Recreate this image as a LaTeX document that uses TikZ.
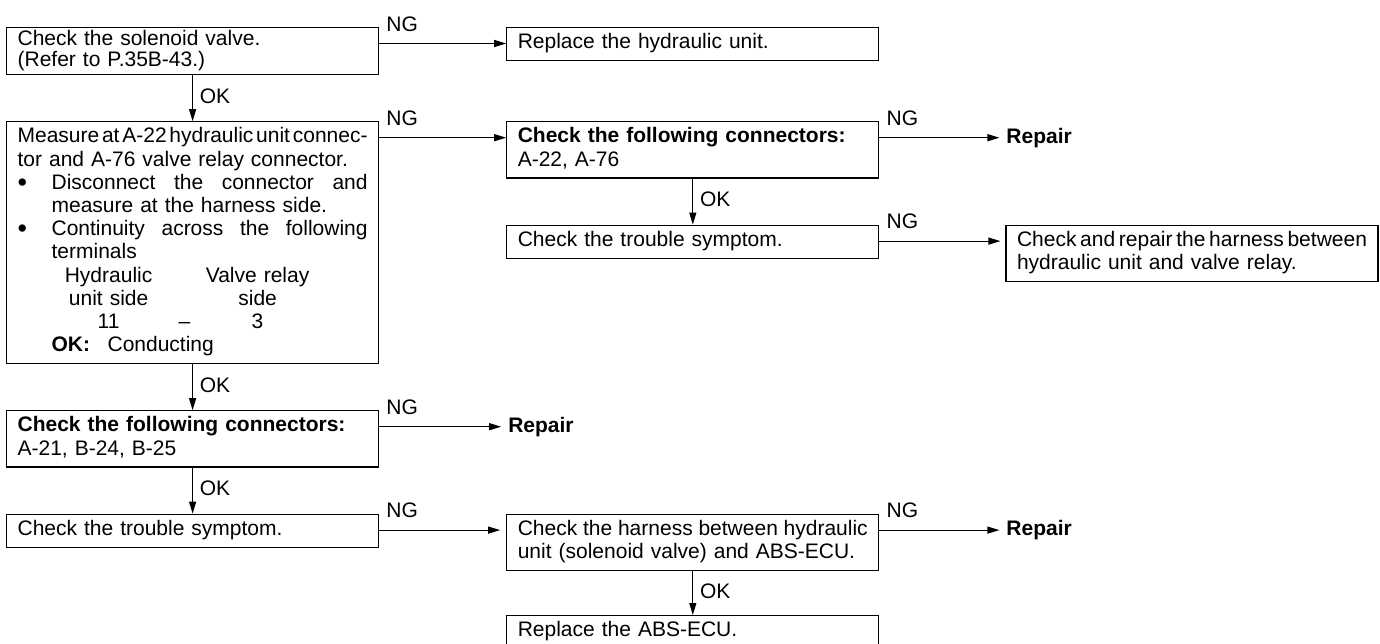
\documentclass[tikz,border=0pt]{standalone}
\usepackage{fontspec}
\setmainfont{Liberation Sans}
\usepackage{tikz}
\usetikzlibrary{arrows.meta, positioning, calc}

\newcommand{\blt}{\makebox[17pt][l]{\raisebox{-0.9pt}{\fontsize{13.5}{11.6}\selectfont\textbullet}}}
\newcommand{\jline}[2]{\makebox[#1][s]{\spaceskip=0.278em plus 1fil minus 0.25em\relax #2}}

\begin{document}
\begin{tikzpicture}[
    node distance=23pt and 63.5pt,
    box/.style={draw, line width=0.6pt, rectangle, text width=175pt, inner xsep=5.5pt,
      inner ysep=2.45pt, align=left, font=\fontsize{10.5}{11.6}\selectfont,
      execute at begin node={\noindent\strut}, execute at end node=\strut},
    txt/.style={font=\fontsize{10.5}{11.6}\selectfont},
    bold/.style={font=\fontsize{10.5}{11.6}\selectfont\bfseries, anchor=west},
    arrow/.style={line width=0.6pt, -{Triangle[length=6pt,width=3.5pt]}},
    ng/.style={pos=0, above right, yshift=2.4pt, txt},
    ok/.style={pos=0.45, right, txt}
]
\useasboundingbox (0,0) rectangle (690pt,-321.5pt);

\node[box, anchor=north west, inner ysep=0.8pt] (solenoid) at (3pt,-13.5pt)
  {Check the solenoid valve.\\[-1.3pt](Refer to P.35B-43.)};
\node[box, right=of solenoid.north east, anchor=north west] (replhu) {Replace the hydraulic unit.};
\node[box, below=of solenoid] (measure)
  {\jline{175pt}{Measure at A-22 hydraulic unit connec-}\\
   tor and A-76 valve relay connector.\\
   \blt\jline{158pt}{Disconnect the connector and}\\
   \hspace*{17pt}measure at the harness side.\\
   \blt\jline{158pt}{Continuity across the following}\\
   \hspace*{17pt}terminals\\
   \hspace*{45.5pt}\makebox[0pt]{Hydraulic}\hspace*{74.5pt}\makebox[0pt]{Valve relay}\\
   \hspace*{45.5pt}\makebox[0pt]{unit side}\hspace*{74.5pt}\makebox[0pt]{side}\\
   \hspace*{45.5pt}\makebox[0pt]{11}\hspace*{38pt}\makebox[0pt]{--}\hspace*{36.5pt}\makebox[0pt]{3}\\
   \hspace*{17pt}\makebox[28pt][l]{\textbf{OK:}}Conducting};
\node[box, right=of measure.north east, anchor=north west] (conntwo)
  {\textbf{Check the following connectors:}\\A-22, A-76};
\node[box, below=of conntwo] (symptomR) {Check the trouble symptom.};
\node[box, right=63pt of symptomR.north east, anchor=north west] (repharness)
  {\jline{175pt}{Check and repair the harness between}\\hydraulic unit and valve relay.};
\node[box, below=of measure] (connthree)
  {\textbf{Check the following connectors:}\\A-21, B-24, B-25};
\node[box, below=of connthree] (symptomL) {Check the trouble symptom.};
\node[box, right=of symptomL.north east, anchor=north west] (harness)
  {\jline{175pt}{Check the harness between hydraulic}\\unit (solenoid valve) and ABS-ECU.};
\node[box, below=22pt of harness] (replecu) {Replace the ABS-ECU.};

\node[bold] (repairA) at ([xshift=60pt,yshift=-8.25pt]conntwo.north east) {Repair};
\node[bold] (repairB) at ([xshift=61pt,yshift=-8.25pt]connthree.north east) {Repair};
\node[bold] (repairC) at ([xshift=60pt,yshift=-8.25pt]harness.north east) {Repair};

\draw[arrow] ([yshift=-8.25pt]solenoid.north east) -- ([yshift=-8.25pt]replhu.north west) node[ng] {NG};
\draw[arrow] (solenoid) -- (measure) node[ok] {OK};
\draw[arrow] ([yshift=-8.25pt]measure.north east) -- ([yshift=-8.25pt]conntwo.north west) node[ng] {NG};
\draw[arrow] ([yshift=-8.25pt]conntwo.north east) -- (repairA) node[ng] {NG};
\draw[arrow] (conntwo) -- (symptomR) node[ok] {OK};
\draw[arrow, shorten >=2.5pt] ([yshift=-8.25pt]symptomR.north east) -- ([yshift=-8.25pt]repharness.north west) node[ng] {NG};
\draw[arrow] (measure) -- (connthree) node[ok] {OK};
\draw[arrow] ([yshift=-8.25pt]connthree.north east) -- (repairB) node[ng] {NG};
\draw[arrow] (connthree) -- (symptomL) node[ok] {OK};
\draw[arrow, shorten >=3pt] ([yshift=-8.25pt]symptomL.north east) -- ([yshift=-8.25pt]harness.north west) node[ng] {NG};
\draw[arrow] ([yshift=-8.25pt]harness.north east) -- (repairC) node[ng] {NG};
\draw[arrow] (harness) -- (replecu) node[ok] {OK};
\end{tikzpicture}
\end{document}
